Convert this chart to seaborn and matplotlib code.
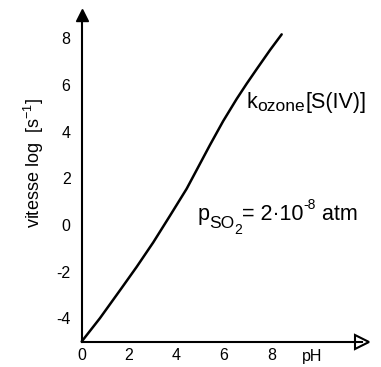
import matplotlib
matplotlib.use("Agg")
import matplotlib.pyplot as plt
from matplotlib.transforms import offset_copy
import seaborn as sns
import pandas as pd

# Data
ph = [0.0, 0.77, 1.69, 2.32, 3.02, 3.73, 4.43, 4.85, 5.41, 5.97, 6.54, 6.96, 7.4, 7.95, 8.44]
log_rate = [-5.0, -4.0, -2.7, -1.8, -0.75, 0.4, 1.55, 2.35, 3.42, 4.45, 5.4, 6.05, 6.7, 7.5, 8.17]
x_ticks = [0, 2, 4, 6, 8]
y_ticks = [-4, -2, 0, 2, 4, 6, 8]
x_label = "pH"
y_label = r"vitesse log  [s$^{\mathrm{-1}}$]"
# rich-text labels: (text, fontsize, baseline shift in points)
curve_label = [("k", 15.5, 0), ("ozone", 12.5, -2.4), ("[S(IV)]", 15.5, 0)]
pressure_label = [("p", 15.5, 0), ("SO", 12.5, -5.3), ("2", 10, -9.9),
                  ("= 2\u00b710", 15.5, 0), ("-8", 10, 7.9), (" atm", 15.5, 0)]

sns.set_theme(style="white")
plt.rcParams["font.family"] = ["Liberation Sans", "DejaVu Sans"]
plt.rcParams["mathtext.fontset"] = "custom"
plt.rcParams["mathtext.rm"] = "Liberation Sans"
plt.rcParams["mathtext.it"] = "Liberation Sans"
plt.rcParams["axes.unicode_minus"] = False

fig = plt.figure(figsize=(3.81, 3.67), dpi=100)
W, H = 381, 367
left_px, right_px, top_px, bottom_px = 81.7, 362, 15, 341.5
ax = fig.add_axes([left_px / W, 1 - bottom_px / H, (right_px - left_px) / W, (bottom_px - top_px) / H])

df = pd.DataFrame({"pH": ph, "rate": log_rate})
sns.lineplot(data=df, x="pH", y="rate", ax=ax, color="black", lw=1.8, clip_on=False)

ax.set_xlim(0, 11.83)
ax.set_ylim(-5, 9)
for s in ["top", "right"]:
    ax.spines[s].set_visible(False)
for s in ["left", "bottom"]:
    ax.spines[s].set_color("black")
    ax.spines[s].set_linewidth(1.5)

ax.set_xticks(x_ticks)
ax.set_yticks(y_ticks)
ax.set_xticklabels([str(v) for v in x_ticks])
ax.set_yticklabels([str(v) for v in y_ticks])
ax.tick_params(axis="y", direction="in", length=11, width=1.2, pad=8, labelsize=11.5, colors="black")
ax.tick_params(axis="x", direction="in", length=12, width=1.0, pad=5, labelsize=11.5, colors="black")
ax.xaxis.get_major_ticks()[0].tick1line.set_visible(False)

ax.set_xlabel("")
ax.set_ylabel(y_label, fontsize=13, va="center", color="black")
ax.yaxis.set_label_coords(-0.172, 0.547)

ax.annotate(x_label, xy=(9.72, 0), xycoords=("data", "axes fraction"),
            xytext=(0, -5.5), textcoords="offset points", ha="center", va="top",
            fontsize=11.5, color="black")

# axis arrowheads
ax.plot(0, 1, marker="^", color="black", markersize=9, transform=ax.transAxes, clip_on=False)
ax.plot(1, 0, marker=">", markerfacecolor="white", markeredgecolor="black", markeredgewidth=1.5,
        markersize=10, transform=ax.transAxes, clip_on=False)


def rich_text(x, y, pieces):
    renderer = fig.canvas.get_renderer()
    dx = 0.0
    for s, size, dy in pieces:
        tr = offset_copy(ax.transData, fig=fig, x=dx, y=dy, units="points")
        t = ax.text(x, y, s, fontsize=size, ha="left", va="baseline", color="black", transform=tr)
        bb = t.get_window_extent(renderer)
        dx += bb.width * 72.0 / fig.dpi


rich_text(6.97, 5.02, curve_label)
rich_text(4.87, 0.2, pressure_label)

fig.savefig("out.png", dpi=100)
